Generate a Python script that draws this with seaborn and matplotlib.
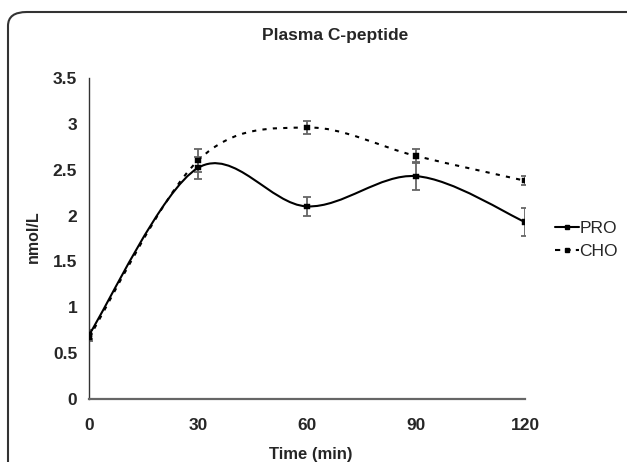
import matplotlib
matplotlib.use("Agg")
import matplotlib.pyplot as plt
import numpy as np
import pandas as pd
import seaborn as sns
from matplotlib.path import Path
from matplotlib.patches import PathPatch, FancyBboxPatch
from matplotlib.lines import Line2D

sns.set_style("white")
plt.rcParams['font.family'] = ['Liberation Sans', 'DejaVu Sans']

time_min = [0, 30, 60, 90, 120]
pro_mean = [0.70, 2.52, 2.10, 2.43, 1.93]
pro_err = [0.05, 0.12, 0.10, 0.15, 0.15]
cho_mean = [0.67, 2.60, 2.96, 2.65, 2.38]
cho_err = [0.04, 0.13, 0.07, 0.08, 0.05]
y_ticks = [0, 0.5, 1, 1.5, 2, 2.5, 3, 3.5]
y_labels = ['0', '0.5', '1', '1.5', '2', '2.5', '3', '3.5']


def smooth_path(x, y):
    # Excel-like smoothed line: Catmull-Rom turned into cubic Bezier segments
    pts = np.column_stack([x, y]).astype(float)
    verts = [pts[0]]
    codes = [Path.MOVETO]
    n = len(pts)
    for i in range(n - 1):
        p0 = pts[i - 1] if i > 0 else pts[i]
        p1 = pts[i]
        p2 = pts[i + 1]
        p3 = pts[i + 2] if i + 2 < n else pts[i + 1]
        c1 = p1 + (p2 - p0) / 6.0
        c2 = p2 - (p3 - p1) / 6.0
        verts += [c1, c2, p2]
        codes += [Path.CURVE4] * 3
    return Path(verts, codes)


W, H = 627, 462
fig = plt.figure(figsize=(W / 100, H / 100), dpi=100)
frame = FancyBboxPatch((8 / W, -0.1), 1.2, (H - 12) / H + 0.1,
                       boxstyle="round,pad=0,rounding_size=0.03",
                       transform=fig.transFigure, fill=False,
                       edgecolor='#333333', linewidth=1.5)
fig.patches.append(frame)

ax = fig.add_axes([89 / W, (H - 399) / H, 436 / W, 321 / H])

df = pd.DataFrame({
    'time': time_min * 2,
    'value': pro_mean + cho_mean,
    'group': ['PRO'] * 5 + ['CHO'] * 5,
})

ax.errorbar(time_min, pro_mean, yerr=pro_err, fmt='none', ecolor='#666666',
            elinewidth=1.3, capsize=3, capthick=1.3, zorder=2)
ax.errorbar(time_min, cho_mean, yerr=cho_err, fmt='none', ecolor='#666666',
            elinewidth=1.3, capsize=3, capthick=1.3, zorder=2)

ax.add_patch(PathPatch(smooth_path(time_min, cho_mean), fill=False,
                       edgecolor='black', linewidth=1.5, linestyle=(0, (2, 3)), zorder=3))
ax.add_patch(PathPatch(smooth_path(time_min, pro_mean), fill=False,
                       edgecolor='black', linewidth=1.5, zorder=3))

sns.scatterplot(data=df, x='time', y='value', style='group', markers=['s', 's'],
                color='black', s=14, edgecolor='black', legend=False, ax=ax, zorder=4)

ax.set_xlim(0, 120)
ax.set_ylim(0, 3.5)
ax.set_xticks(time_min)
ax.set_yticks(y_ticks)
ax.set_yticklabels(y_labels)
ax.set_xlabel('')
ax.set_ylabel('')

fig.text(335 / W, 1 - 40 / H, 'Plasma C-peptide', ha='center', va='baseline',
         fontsize=12.5, fontweight='bold')
fig.text(311 / W, 1 - 459 / H, 'Time (min)', ha='center', va='baseline',
         fontsize=12, fontweight='bold')
fig.text(33 / W, 1 - 237 / H, 'nmol/L', ha='center', va='center', rotation=90,
         fontsize=11.5, fontweight='bold')

for s in ['top', 'right']:
    ax.spines[s].set_visible(False)
ax.spines['left'].set_color('#333333')
ax.spines['left'].set_linewidth(1.0)
ax.spines['bottom'].set_color('#666666')
ax.spines['bottom'].set_linewidth(1.6)
ax.tick_params(axis='y', direction='inout', length=9, width=1.0, color='#333333',
               labelsize=12.5, pad=4)
ax.tick_params(axis='x', direction='inout', length=10, width=1.5, color='#666666',
               labelsize=12.5, pad=9)
for lab in ax.get_xticklabels() + ax.get_yticklabels():
    lab.set_fontweight('bold')

handles = [
    Line2D([], [], color='black', linewidth=1.5, marker='s', markersize=3.5),
    Line2D([], [], color='black', linewidth=1.5, linestyle=(0, (2.5, 2.5)),
           marker='s', markersize=3.5),
]
ax.legend(handles, ['PRO', 'CHO'], loc='center left',
          bbox_to_anchor=(555 / W, 1 - 240 / H), bbox_transform=fig.transFigure,
          frameon=False, fontsize=12.5, handlelength=1.4, handletextpad=0.0,
          labelspacing=0.5, borderpad=0, borderaxespad=0)

fig.savefig('out.png', dpi=100)
